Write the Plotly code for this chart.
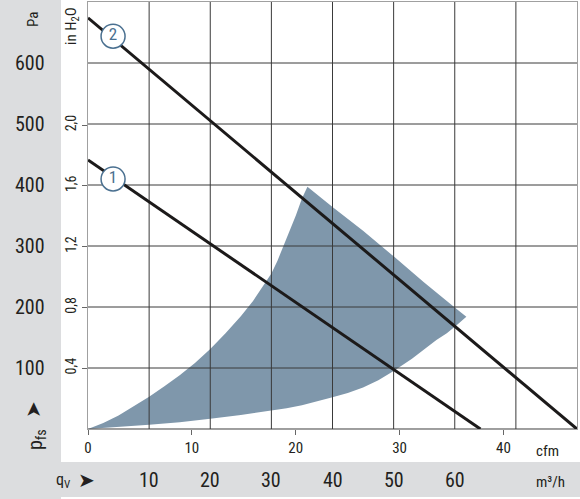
import plotly.graph_objects as go

# flow (m3/h) vs static pressure (Pa)
Q_MAX = 80
P_MAX = 700
M3H_TICKS = [10, 20, 30, 40, 50, 60]
CFM_TICKS = [0, 10, 20, 30, 40]
PA_TICKS = [100, 200, 300, 400, 500, 600]
INH2O_TICKS = [0.4, 0.8, 1.2, 1.6, 2.0]
INH2O_TEXT = ["0,4", "0,8", "1,2", "1,6", "2,0"]
Q_GRID = [10, 20, 30, 40, 50, 60, 70]
P_GRID = [0, 100, 200, 300, 400, 500, 600]

# operating range (shaded area): upper curve, right edge, lower curve
UPPER_Q = [0, 2.5, 5, 7.5, 10, 12.5, 15, 17.5, 20, 22.5, 25, 27, 28.5, 30, 31, 32, 33, 34, 35, 35.9]
UPPER_P = [0, 10, 22, 37, 53, 70, 88, 108, 131, 157, 185, 210, 232, 255, 276, 300, 324, 350, 378, 397]
EDGE_Q = [40, 45, 50, 55, 60, 61.9]
EDGE_P = [364, 325, 283, 240, 199, 184]
LOWER_Q = [60.3, 58.7, 57, 55.5, 53, 50, 47.5, 45, 42.5, 40, 37.5, 35, 32.5, 30, 25, 20, 15, 10, 5, 0]
LOWER_P = [170, 157, 146, 134, 115, 95, 80, 68, 59, 52, 45, 39, 34, 30, 23, 17, 11, 7, 3, 0]

# system resistance lines
LINE1_Q = [0, 64.2]
LINE1_P = [441, 0]
LINE2_Q = [0, 80]
LINE2_P = [674, 0]
MARK_Q = [4.1, 4.1]
MARK_P = [410, 644]
MARK_TEXT = ["1", "2"]

CFM_PER_M3H = 1 / 1.699
PA_PER_INH2O = 249.089

FONT = "Liberation Sans Narrow, Roboto Condensed, Arial Narrow, Arial, sans-serif"
PANEL = "#dcdddf"
TXT = "#231f20"
BLUE = "#4a7090"

L, T, W, H = 88, 2, 489, 427


def px_x(px):
    return (px - L) / W


def px_y(py):
    return (T + H - py) / H


fig = go.Figure()

fig.add_trace(go.Scatter(
    x=UPPER_Q + EDGE_Q + LOWER_Q, y=UPPER_P + EDGE_P + LOWER_P,
    fill="toself", fillcolor="#7f97ab", mode="lines", line={"width": 0},
    hoverinfo="skip", showlegend=False,
))

gx, gy = [], []
for q in Q_GRID:
    gx += [q, q, None]
    gy += [0, P_MAX, None]
for p in P_GRID:
    gx += [0, Q_MAX, None]
    gy += [p, p, None]
fig.add_trace(go.Scatter(x=gx, y=gy, mode="lines", line={"color": "#3a3a3a", "width": 1},
                         hoverinfo="skip", showlegend=False))

for qs, ps in [(LINE1_Q, LINE1_P), (LINE2_Q, LINE2_P)]:
    fig.add_trace(go.Scatter(x=qs, y=ps, mode="lines", line={"color": "#1c1a1a", "width": 3},
                             showlegend=False))

fig.add_trace(go.Scatter(
    x=MARK_Q, y=MARK_P, mode="markers+text", text=MARK_TEXT, textposition="middle center",
    marker={"size": 24, "color": "white", "line": {"color": BLUE, "width": 1.5}},
    textfont={"family": FONT, "size": 17, "color": BLUE}, showlegend=False,
))

# cfm axis (bottom) and inH2O axis (left)
fig.add_trace(go.Scatter(x=[0], y=[0], xaxis="x2", yaxis="y2", mode="markers",
                         marker={"opacity": 0}, showlegend=False, hoverinfo="skip"))

fig.update_layout(
    width=580, height=499,
    margin={"l": L, "r": 580 - L - W, "t": T, "b": 499 - T - H},
    paper_bgcolor="white", plot_bgcolor="white",
    font={"family": FONT, "color": TXT},
    xaxis={"range": [0, Q_MAX], "showgrid": False, "zeroline": False, "showticklabels": False,
           "showline": True, "linecolor": "#a0a0a0", "mirror": True, "ticks": ""},
    yaxis={"range": [0, P_MAX], "showgrid": False, "zeroline": False, "showticklabels": False,
           "showline": True, "linecolor": "#a0a0a0", "mirror": True, "ticks": ""},
    xaxis2={"overlaying": "x", "side": "bottom", "range": [0, Q_MAX * CFM_PER_M3H],
            "tickvals": CFM_TICKS, "ticks": "outside", "ticklen": 5, "tickcolor": "#666",
            "showgrid": False, "zeroline": False, "showline": False,
            "tickfont": {"size": 15, "color": TXT}},
    yaxis2={"overlaying": "y", "side": "left", "range": [0, P_MAX / PA_PER_INH2O],
            "tickvals": INH2O_TICKS, "ticktext": INH2O_TEXT, "tickangle": -90,
            "ticks": "outside", "ticklen": 5, "tickcolor": "#666",
            "showgrid": False, "zeroline": False, "showline": False,
            "tickfont": {"size": 14, "color": TXT}},
)

shapes = [
    dict(type="rect", xref="paper", yref="paper", x0=px_x(0), x1=px_x(61), y0=px_y(499), y1=px_y(0),
         fillcolor=PANEL, line={"width": 0}, layer="below"),
    dict(type="rect", xref="paper", yref="paper", x0=px_x(0), x1=px_x(580), y0=px_y(497), y1=px_y(462),
         fillcolor=PANEL, line={"width": 0}, layer="below"),
]
fig.update_layout(shapes=shapes)

ann = []
for p in PA_TICKS:
    ann.append(dict(x=px_x(30), xref="paper", y=p, yref="y", text=str(p), showarrow=False,
                    font={"size": 20, "color": TXT}, xanchor="center", yanchor="middle"))
for q in M3H_TICKS:
    ann.append(dict(x=q, xref="x", y=px_y(480), yref="paper", text=str(q), showarrow=False,
                    font={"size": 20, "color": TXT}, xanchor="center", yanchor="middle"))
ann += [
    dict(x=px_x(33), y=px_y(20), text="Pa", textangle=-90, font={"size": 15}),
    dict(x=px_x(72), y=px_y(26), text="in H<sub>2</sub>O", textangle=-90, font={"size": 15}),
    dict(x=px_x(33), y=px_y(410), text="➤", textangle=-90, font={"size": 20}),
    dict(x=px_x(36), y=px_y(440), text="p<sub>fs</sub>", textangle=-90, font={"size": 20}),
    dict(x=px_x(63), y=px_y(481), text="q<sub>V</sub>", font={"size": 16}),
    dict(x=px_x(86), y=px_y(480), text="➤", font={"size": 20}),
    dict(x=px_x(547), y=px_y(451), text="cfm", font={"size": 15}),
    dict(x=px_x(550), y=px_y(482), text="m³/h", font={"size": 15}),
]
for a in ann:
    a.setdefault("xref", "paper")
    a.setdefault("yref", "paper")
    a.setdefault("showarrow", False)
    a.setdefault("xanchor", "center")
    a.setdefault("yanchor", "middle")
    a["font"].setdefault("color", TXT)
fig.update_layout(annotations=ann)

fig.write_html("out.html", config={"displayModeBar": False},
               post_script="document.body.style.margin='0';")
